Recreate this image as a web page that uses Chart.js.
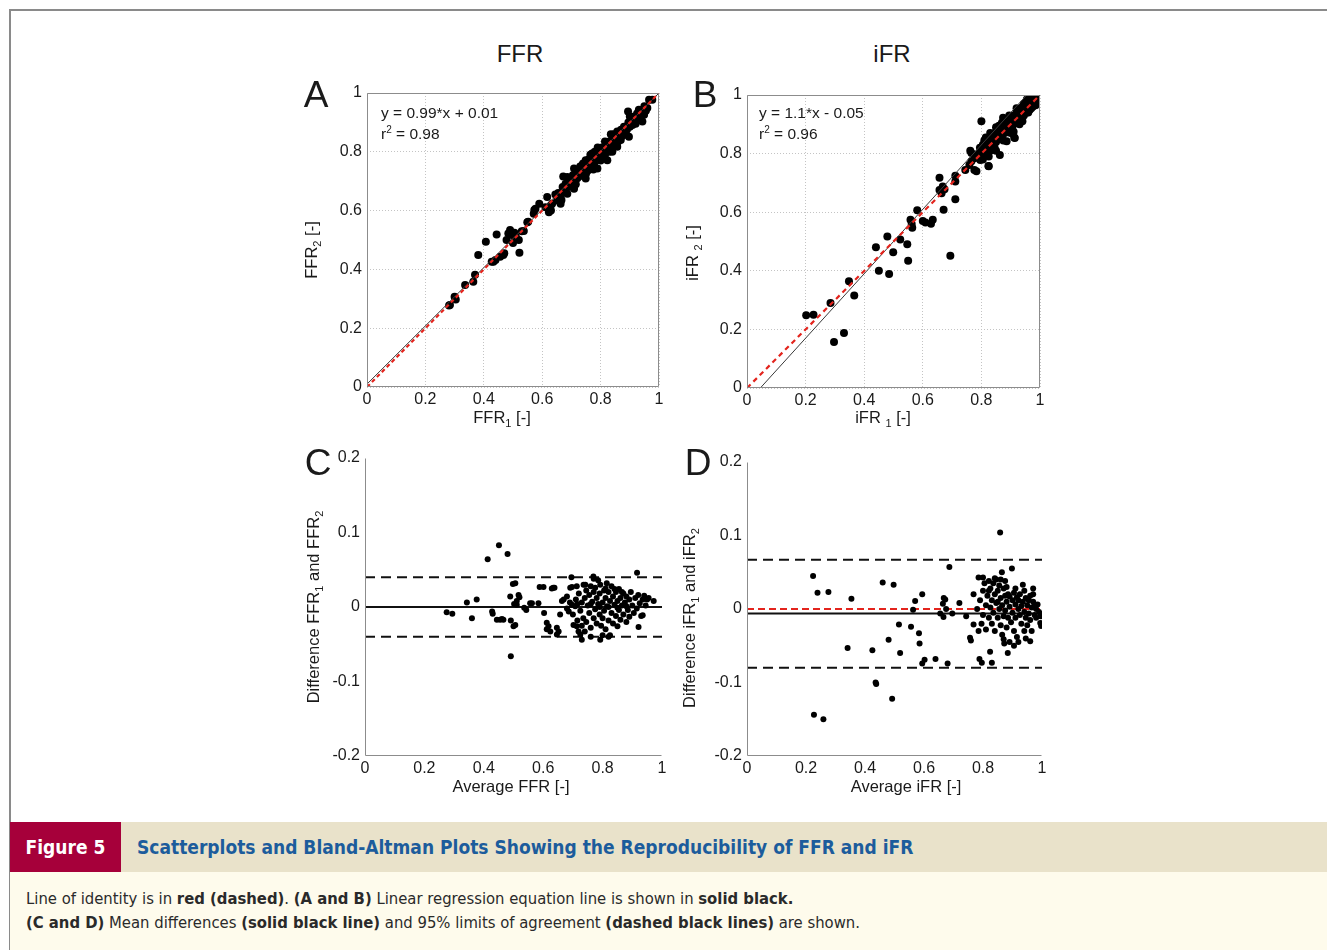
<!DOCTYPE html>
<html>
<head>
<meta charset="utf-8">
<script src="https://cdn.jsdelivr.net/npm/chart.js@4.4.1/dist/chart.umd.min.js"></script>
<style>
  html, body { margin: 0; padding: 0; background: #fff; }
  body { width: 1327px; height: 950px; position: relative; overflow: hidden;
         font-family: "Liberation Sans", Arial, sans-serif; color: #1a1a1a; }
  .frame { position: absolute; left: 9px; top: 9px; width: 1320px; height: 945px;
           border-left: 2px solid #8a8a8a; border-top: 2px solid #8a8a8a; }
  canvas { position: absolute; }
  .lbl { position: absolute; transform: translate(-50%, -50%); white-space: nowrap; font-size: 16.5px; line-height: 1; }
  .rot { transform: translate(-50%, -50%) rotate(-90deg); }
  .lbl sub { font-size: 11px; vertical-align: -4px; line-height: 0; }
  .col { font-size: 24px; }
  .letter { font-size: 37px; }
  .eq { position: absolute; white-space: nowrap; font-size: 15.5px; line-height: 1; transform: translateY(-50%); }
  .eq sup { font-size: 10px; vertical-align: 6px; line-height: 0; }
  .capbar { position: absolute; left: 10px; top: 822px; width: 1317px; height: 50px; background: #e9e2ca; }
  .capnum { position: absolute; left: 0; top: 0; width: 111px; height: 50px; background: #a6003a; color: #fff;
            font: bold 19px "Liberation Sans Narrow", "DejaVu Sans Condensed", sans-serif; line-height: 50px; text-align: center; }
  .captitle { position: absolute; left: 127px; top: 0; height: 50px; color: #1c5c9c;
              font: bold 19px "Liberation Sans Narrow", "DejaVu Sans Condensed", sans-serif; line-height: 50px; white-space: nowrap; }
  .capbody { position: absolute; left: 10px; top: 872px; width: 1317px; height: 78px; background: #fefbec;
             font: 16.5px "Liberation Sans Narrow", "DejaVu Sans Condensed", sans-serif; color: #2a2a2a; }
  .capbody div { position: absolute; left: 16px; white-space: nowrap; line-height: 1; }
</style>
</head>
<body>
<div class="frame"></div>

<canvas id="chartA"></canvas>
<canvas id="chartB"></canvas>
<canvas id="chartC"></canvas>
<canvas id="chartD"></canvas>

<div class="lbl col" style="left:520px; top:54px;">FFR</div>
<div class="lbl col" style="left:892px; top:54px;">iFR</div>

<div class="lbl letter" style="left:316px; top:94px;">A</div>
<div class="lbl letter" style="left:705px; top:94px;">B</div>
<div class="lbl letter" style="left:318px; top:462px;">C</div>
<div class="lbl letter" style="left:698px; top:462px;">D</div>

<div class="lbl" style="left:502px; top:417px;">FFR<sub>1</sub> [-]</div>
<div class="lbl rot" style="left:311px; top:250px;">FFR<sub>2</sub> [-]</div>
<div class="lbl" style="left:883px; top:417px;">iFR <sub>1</sub> [-]</div>
<div class="lbl rot" style="left:692px; top:253px;">iFR <sub>2</sub> [-]</div>
<div class="lbl" style="left:511px; top:786px;">Average FFR [-]</div>
<div class="lbl rot" style="left:313px; top:607px;">Difference FFR<sub>1</sub> and FFR<sub>2</sub></div>
<div class="lbl" style="left:906px; top:786px;">Average iFR [-]</div>
<div class="lbl rot" style="left:689px; top:618px;">Difference iFR<sub>1</sub> and iFR<sub>2</sub></div>

<div class="eq" id="eqA" style="left:381px; top:113px;"></div>
<div class="eq" id="r2A" style="left:381px; top:134px;"></div>
<div class="eq" id="eqB" style="left:759px; top:113px;"></div>
<div class="eq" id="r2B" style="left:759px; top:134px;"></div>

<div class="capbar">
  <div class="capnum">Figure 5</div>
  <div class="captitle">Scatterplots and Bland-Altman Plots Showing the Reproducibility of FFR and iFR</div>
</div>
<div class="capbody">
  <div style="top:19px;">Line of identity is in <b>red (dashed)</b>. <b>(A and B)</b> Linear regression equation line is shown in <b>solid black.</b></div>
  <div style="top:43px;"><b>(C and D)</b> Mean differences <b>(solid black line)</b> and 95% limits of agreement <b>(dashed black lines)</b> are shown.</div>
</div>

<script>
// axis ticks
const unitTicks = [0, 0.2, 0.4, 0.6, 0.8, 1];
const diffTicks = [-0.2, -0.1, 0, 0.1, 0.2];

// regression fits and limits of agreement
const ffrFit = { slope: 0.99, intercept: 0.01, r2: 0.98 };
const ifrFit = { slope: 1.1, intercept: -0.05, r2: 0.96 };
const ffrAgreement = { mean: 0, lower: -0.04, upper: 0.04 };
const ifrAgreement = { mean: -0.006, lower: -0.08, upper: 0.067 };

// [FFR1, FFR2]
const ffrPairs = [
  [0.281,0.277],[0.284,0.279],[0.300,0.307],[0.304,0.298],[0.336,0.347],[0.364,0.358],[0.370,0.382],[0.381,0.449],
  [0.407,0.494],[0.427,0.426],[0.433,0.426],[0.440,0.432],[0.444,0.519],[0.456,0.443],[0.467,0.449],[0.470,0.455],
  [0.478,0.500],[0.484,0.522],[0.490,0.534],[0.496,0.517],[0.500,0.490],[0.505,0.525],[0.510,0.510],[0.520,0.500],
  [0.522,0.457],[0.530,0.530],[0.537,0.531],[0.549,0.560],[0.552,0.562],[0.571,0.589],[0.573,0.602],[0.577,0.606],
  [0.590,0.623],[0.611,0.611],[0.617,0.646],[0.623,0.594],[0.629,0.617],[0.630,0.600],[0.634,0.623],[0.645,0.655],
  [0.651,0.634],[0.655,0.660],[0.660,0.645],[0.663,0.623],[0.663,0.651],[0.666,0.636],[0.670,0.680],[0.672,0.716],
  [0.674,0.669],[0.675,0.665],[0.680,0.691],[0.686,0.657],[0.686,0.714],[0.690,0.680],[0.690,0.700],[0.695,0.710],
  [0.697,0.697],[0.700,0.690],[0.705,0.720],[0.705,0.700],[0.709,0.674],[0.709,0.743],[0.714,0.703],[0.714,0.726],
  [0.715,0.690],[0.720,0.710],[0.720,0.735],[0.725,0.715],[0.726,0.737],[0.730,0.750],[0.735,0.745],[0.737,0.720],
  [0.737,0.754],[0.740,0.735],[0.740,0.760],[0.745,0.745],[0.749,0.709],[0.749,0.771],[0.750,0.725],[0.750,0.760],
  [0.754,0.749],[0.755,0.735],[0.760,0.775],[0.760,0.745],[0.765,0.750],[0.765,0.790],[0.766,0.766],[0.770,0.760],
  [0.771,0.794],[0.775,0.780],[0.775,0.740],[0.777,0.754],[0.780,0.765],[0.780,0.800],[0.783,0.777],[0.785,0.795],
  [0.789,0.743],[0.790,0.775],[0.790,0.815],[0.794,0.789],[0.795,0.800],[0.800,0.790],[0.800,0.811],[0.800,0.770],
  [0.805,0.815],[0.805,0.780],[0.810,0.800],[0.811,0.783],[0.815,0.790],[0.815,0.835],[0.817,0.806],[0.820,0.825],
  [0.820,0.800],[0.823,0.771],[0.825,0.810],[0.829,0.823],[0.830,0.835],[0.830,0.800],[0.835,0.815],[0.835,0.860],
  [0.840,0.800],[0.840,0.845],[0.845,0.825],[0.845,0.860],[0.846,0.840],[0.850,0.855],[0.850,0.830],[0.855,0.840],
  [0.857,0.817],[0.857,0.869],[0.860,0.860],[0.860,0.835],[0.865,0.850],[0.869,0.840],[0.870,0.875],[0.870,0.860],
  [0.874,0.863],[0.875,0.855],[0.880,0.885],[0.880,0.860],[0.885,0.870],[0.890,0.875],[0.891,0.886],[0.894,0.937],
  [0.895,0.900],[0.897,0.851],[0.900,0.885],[0.900,0.920],[0.905,0.910],[0.909,0.891],[0.910,0.900],[0.915,0.920],
  [0.920,0.909],[0.920,0.895],[0.925,0.930],[0.930,0.915],[0.931,0.943],[0.935,0.925],[0.940,0.940],[0.943,0.903],
  [0.945,0.930],[0.949,0.926],[0.950,0.955],[0.955,0.940],[0.960,0.949],[0.966,0.977],[0.977,0.977]
];

// [iFR1, iFR2]
const ifrPairs = [
  [0.202,0.248],[0.227,0.250],[0.285,0.290],[0.297,0.157],[0.331,0.188],[0.348,0.364],[0.366,0.316],[0.440,0.480],
  [0.450,0.400],[0.479,0.517],[0.485,0.389],[0.499,0.463],[0.523,0.507],[0.547,0.491],[0.550,0.434],[0.558,0.574],
  [0.562,0.560],[0.564,0.547],[0.581,0.607],[0.600,0.570],[0.609,0.565],[0.628,0.561],[0.634,0.574],[0.657,0.718],
  [0.657,0.676],[0.664,0.665],[0.668,0.688],[0.674,0.678],[0.671,0.608],[0.694,0.451],[0.711,0.644],[0.711,0.705],
  [0.711,0.724],[0.745,0.744],[0.759,0.761],[0.762,0.810],[0.766,0.802],[0.766,0.774],[0.776,0.744],[0.776,0.784],
  [0.783,0.740],[0.796,0.778],[0.800,0.910],[0.824,0.758],[0.825,0.757],[0.863,0.795],[0.874,0.922],[0.886,0.842],
  [0.912,0.855],[0.914,0.853],
  [0.790,0.800],[0.795,0.820],[0.800,0.790],[0.800,0.800],[0.805,0.830],[0.805,0.780],[0.810,0.810],[0.810,0.845],
  [0.815,0.800],[0.815,0.855],[0.820,0.835],[0.820,0.820],[0.820,0.800],[0.825,0.850],[0.825,0.790],[0.830,0.810],
  [0.830,0.840],[0.830,0.870],[0.835,0.865],[0.835,0.830],[0.840,0.825],[0.840,0.850],[0.840,0.865],[0.845,0.870],
  [0.845,0.820],[0.850,0.840],[0.850,0.860],[0.850,0.890],[0.850,0.810],[0.855,0.880],[0.860,0.850],[0.860,0.870],
  [0.860,0.895],[0.865,0.885],[0.865,0.860],[0.870,0.860],[0.870,0.880],[0.870,0.905],[0.875,0.900],[0.875,0.845],
  [0.880,0.870],[0.880,0.890],[0.880,0.910],[0.885,0.875],[0.890,0.900],[0.890,0.880],[0.895,0.915],[0.895,0.930],
  [0.895,0.895],[0.900,0.890],[0.900,0.905],[0.900,0.870],[0.905,0.920],[0.905,0.885],[0.910,0.900],[0.910,0.930],
  [0.910,0.875],[0.915,0.910],[0.920,0.920],[0.920,0.940],[0.920,0.955],[0.925,0.905],[0.925,0.925],[0.930,0.930],
  [0.930,0.950],[0.930,0.900],[0.935,0.920],[0.940,0.940],[0.940,0.960],[0.940,0.910],[0.945,0.930],[0.945,0.970],
  [0.950,0.950],[0.950,0.970],[0.955,0.940],[0.955,0.955],[0.955,0.985],[0.960,0.960],[0.960,0.980],[0.960,0.940],
  [0.965,0.950],[0.970,0.970],[0.970,0.985],[0.970,0.955],[0.975,0.960],[0.975,0.980],[0.980,0.980],[0.985,0.990],
  [0.985,0.965],[0.990,0.975],[0.990,0.990],[0.995,0.990]
];

// [average FFR, FFR1 - FFR2]
const ffrBland = [
  [0.275,-0.007],[0.294,-0.009],[0.343,0.006],[0.360,-0.015],[0.376,0.010],[0.413,0.064],[0.428,-0.006],[0.430,-0.009],
  [0.444,-0.017],[0.451,0.083],[0.455,-0.017],[0.461,-0.016],[0.466,-0.017],[0.480,0.071],[0.489,0.014],[0.491,-0.018],
  [0.491,-0.066],[0.498,0.031],[0.500,-0.026],[0.502,0.004],[0.506,0.032],[0.506,-0.024],[0.511,0.003],[0.511,0.008],
  [0.517,0.016],[0.520,0.013],[0.536,-0.001],[0.543,-0.004],[0.556,0.005],[0.562,0.005],[0.584,0.005],[0.588,0.027],
  [0.601,0.027],[0.603,-0.008],[0.612,-0.021],[0.612,-0.030],[0.618,-0.026],[0.624,-0.033],[0.629,0.025],[0.634,0.026],
  [0.638,0.026],[0.646,-0.028],[0.646,-0.037],[0.652,-0.033],[0.657,-0.010],[0.663,0.008],[0.669,0.010],[0.680,0.014],
  [0.680,-0.002],[0.686,-0.006],[0.690,0.006],[0.691,0.026],[0.695,0.040],[0.697,0.027],[0.697,0.003],[0.700,-0.010],
  [0.702,-0.024],[0.708,0.001],[0.710,0.010],[0.713,-0.026],[0.713,0.028],[0.715,0.004],[0.715,-0.018],[0.719,-0.033],
  [0.720,0.018],[0.725,-0.037],[0.725,-0.005],[0.730,-0.044],[0.730,0.006],[0.730,-0.025],[0.735,-0.015],[0.736,0.030],
  [0.740,0.012],[0.740,-0.033],[0.742,0.030],[0.745,0.022],[0.745,-0.020],[0.750,0.002],[0.755,-0.008],[0.755,0.016],
  [0.760,0.028],[0.760,-0.028],[0.760,0.004],[0.760,-0.040],[0.765,0.007],[0.769,0.041],[0.770,-0.015],[0.770,0.020],
  [0.770,0.038],[0.775,0.026],[0.775,-0.003],[0.780,0.012],[0.780,-0.022],[0.785,0.004],[0.785,0.036],[0.790,0.018],
  [0.790,-0.010],[0.790,0.000],[0.792,-0.044],[0.792,0.030],[0.795,-0.025],[0.800,0.006],[0.800,-0.015],[0.800,-0.038],
  [0.805,0.022],[0.805,-0.005],[0.810,0.012],[0.810,-0.030],[0.810,0.025],[0.814,0.032],[0.815,0.001],[0.820,0.020],
  [0.820,-0.018],[0.820,-0.040],[0.820,0.000],[0.825,0.008],[0.825,-0.038],[0.830,0.028],[0.830,-0.008],[0.835,0.014],
  [0.835,-0.022],[0.840,0.003],[0.840,0.024],[0.845,0.020],[0.845,-0.012],[0.850,0.008],[0.850,-0.026],[0.850,-0.001],
  [0.855,0.024],[0.855,-0.004],[0.860,0.012],[0.860,-0.017],[0.865,0.002],[0.865,0.020],[0.870,0.018],[0.870,-0.010],
  [0.875,0.006],[0.880,-0.020],[0.880,0.014],[0.880,0.001],[0.885,-0.004],[0.890,0.010],[0.890,-0.013],[0.895,0.020],
  [0.900,0.002],[0.905,-0.008],[0.910,0.012],[0.915,-0.002],[0.916,0.046],[0.920,0.016],[0.921,-0.027],[0.925,0.005],
  [0.930,-0.012],[0.935,0.010],[0.935,-0.011],[0.940,0.015],[0.945,0.002],[0.950,0.010],[0.955,0.012],[0.972,0.008]
];

// [average iFR, iFR1 - iFR2]
const ifrBland = [
  [0.224,0.045],[0.227,-0.144],[0.239,0.022],[0.259,-0.150],[0.276,0.023],[0.341,-0.053],[0.354,0.014],[0.425,-0.056],
  [0.436,-0.100],[0.438,-0.102],[0.460,0.036],[0.480,-0.042],[0.492,-0.122],[0.497,0.033],[0.515,-0.021],[0.519,-0.060],
  [0.556,-0.024],[0.563,-0.001],[0.570,0.011],[0.583,-0.033],[0.585,-0.047],[0.594,0.020],[0.594,-0.074],[0.602,-0.069],
  [0.639,-0.068],[0.655,-0.006],[0.664,0.007],[0.666,-0.011],[0.667,0.015],[0.672,0.013],[0.675,0.000],[0.680,-0.074],
  [0.686,0.057],[0.696,-0.006],[0.720,0.008],[0.743,-0.010],[0.756,-0.039],[0.759,-0.043],[0.768,0.020],[0.768,-0.021],
  [0.780,0.000],[0.785,0.043],[0.785,-0.030],[0.788,-0.068],[0.790,0.012],[0.795,-0.020],[0.796,-0.073],[0.800,0.025],
  [0.800,-0.008],[0.800,0.043],[0.805,0.035],[0.810,0.005],[0.810,-0.028],[0.815,0.018],[0.820,-0.012],[0.820,0.038],
  [0.820,0.025],[0.824,-0.058],[0.825,0.002],[0.825,0.028],[0.830,-0.020],[0.830,0.012],[0.830,-0.073],[0.835,0.035],
  [0.835,-0.005],[0.840,0.020],[0.840,-0.030],[0.840,0.042],[0.845,0.008],[0.845,0.040],[0.850,-0.012],[0.850,0.025],
  [0.850,0.010],[0.855,0.000],[0.855,0.032],[0.858,0.104],[0.860,-0.022],[0.860,0.015],[0.860,0.040],[0.864,0.050],
  [0.865,0.005],[0.865,-0.035],[0.870,0.028],[0.870,-0.010],[0.870,-0.041],[0.872,-0.047],[0.875,0.018],[0.875,-0.002],
  [0.875,0.038],[0.880,0.010],[0.880,-0.025],[0.880,0.030],[0.884,-0.060],[0.885,0.020],[0.885,-0.012],[0.890,0.003],
  [0.890,0.017],[0.890,-0.045],[0.895,-0.018],[0.898,0.055],[0.900,0.012],[0.900,-0.005],[0.905,0.022],[0.905,-0.030],
  [0.905,-0.050],[0.910,0.006],[0.910,-0.012],[0.910,0.028],[0.915,0.016],[0.915,-0.038],[0.920,0.000],[0.920,0.012],
  [0.920,-0.045],[0.925,-0.008],[0.925,0.020],[0.930,0.004],[0.930,-0.020],[0.935,0.033],[0.935,0.010],[0.940,-0.004],
  [0.940,-0.030],[0.940,0.025],[0.945,0.015],[0.945,-0.012],[0.945,-0.040],[0.950,0.005],[0.950,-0.022],[0.955,0.012],
  [0.955,-0.006],[0.960,0.018],[0.960,-0.015],[0.960,-0.044],[0.965,0.002],[0.965,-0.030],[0.970,0.010],[0.970,0.028],
  [0.970,0.020],[0.975,-0.008],[0.975,0.005],[0.980,0.000],[0.980,-0.012],[0.985,0.006],[0.990,-0.004],[0.994,-0.019],
  [0.995,-0.010],[0.997,-0.023]
];

const RED = '#e3241d';
const tickFont = { family: '"Liberation Sans", Arial, sans-serif', size: 16 };

const toXY = pairs => pairs.map(p => ({ x: p[0], y: p[1] }));

function fitLine(fit) {
  // clip the regression line to the 0..1 square
  const x0 = Math.max(0, -fit.intercept / fit.slope);
  const x1 = Math.min(1, (1 - fit.intercept) / fit.slope);
  return [{ x: x0, y: fit.slope * x0 + fit.intercept }, { x: x1, y: fit.slope * x1 + fit.intercept }];
}

function hLine(y) { return [{ x: 0, y: y }, { x: 1, y: y }]; }

function lineSet(data, color, width, dash) {
  return { type: 'line', data: data, showLine: true, borderColor: color, borderWidth: width,
           borderDash: dash || [], pointRadius: 0, fill: false };
}

function dotSet(data, r) {
  return { type: 'scatter', data: data, pointRadius: r, pointHoverRadius: r,
           backgroundColor: '#000', borderWidth: 0 };
}

// axes box: full frame for scatterplots, left+bottom for Bland-Altman
const boxPlugin = {
  id: 'box',
  afterDraw(chart, args, opts) {
    const { ctx, chartArea: a } = chart;
    const l = Math.round(a.left) + 0.5, r = Math.round(a.right) - 0.5;
    const t = Math.round(a.top) + 0.5, b = Math.round(a.bottom) - 0.5;
    ctx.save();
    ctx.strokeStyle = '#8c8c8c';
    ctx.lineWidth = 1;
    ctx.beginPath();
    if (opts.full) {
      ctx.rect(l, t, r - l, b - t);
    } else {
      ctx.moveTo(l, t); ctx.lineTo(l, b); ctx.lineTo(r, b);
    }
    ctx.stroke();
    ctx.restore();
  }
};

function axis(min, max, ticks, grid, fitSize, isX) {
  return {
    type: 'linear', min: min, max: max,
    afterBuildTicks: s => { s.ticks = ticks.map(v => ({ value: v })); },
    afterFit: s => { if (isX) s.height = fitSize; else s.width = fitSize; },
    grid: { display: grid, color: '#c4c4c4', lineWidth: 1, drawTicks: false },
    border: { display: false, dash: [1, 2] },
    ticks: { font: tickFont, color: '#1a1a1a', padding: isX ? 3 : 5, maxRotation: 0, autoSkip: false,
             callback: v => String(v) }
  };
}

function panel(id, area, opts) {
  const yW = 70, xH = 30, padT = 20, padR = 20;
  const cv = document.getElementById(id);
  cv.width = area.right - area.left + yW + padR;
  cv.height = area.bottom - area.top + padT + xH;
  cv.style.left = (area.left - yW) + 'px';
  cv.style.top = (area.top - padT) + 'px';
  return new Chart(cv, {
    type: 'scatter',
    data: { datasets: opts.datasets },
    options: {
      responsive: false, animation: false, events: [],
      layout: { padding: { top: padT, right: padR, left: 0, bottom: 0 } },
      plugins: { legend: { display: false }, tooltip: { enabled: false }, box: { full: opts.full } },
      scales: {
        x: axis(0, 1, unitTicks, opts.full, xH, true),
        y: axis(opts.yMin, opts.yMax, opts.yTicks, opts.full, yW, false)
      }
    },
    plugins: [boxPlugin]
  });
}

const identity = [{ x: 0, y: 0 }, { x: 1, y: 1 }];

// A: FFR scatter
panel('chartA', { left: 367, top: 93, right: 659, bottom: 387 }, {
  full: true, yMin: 0, yMax: 1, yTicks: unitTicks,
  datasets: [
    lineSet(identity, RED, 2.2, [4, 3]),
    lineSet(fitLine(ffrFit), '#3a3a3a', 1),
    dotSet(toXY(ffrPairs), 4)
  ]
});

// B: iFR scatter
panel('chartB', { left: 747, top: 95, right: 1040, bottom: 388 }, {
  full: true, yMin: 0, yMax: 1, yTicks: unitTicks,
  datasets: [
    lineSet(identity, RED, 2.2, [5, 4]),
    lineSet(fitLine(ifrFit), '#3a3a3a', 1),
    dotSet(toXY(ifrPairs), 4)
  ]
});

// C: FFR Bland-Altman
panel('chartC', { left: 365, top: 458, right: 662, bottom: 756 }, {
  full: false, yMin: -0.2, yMax: 0.2, yTicks: diffTicks,
  datasets: [
    dotSet(toXY(ffrBland), 3),
    lineSet(hLine(ffrAgreement.mean), '#111', 2),
    lineSet(hLine(ffrAgreement.upper), '#111', 2, [10, 6]),
    lineSet(hLine(ffrAgreement.lower), '#111', 2, [10, 6]),
    lineSet(hLine(0), RED, 2, [7, 4])
  ]
});

// D: iFR Bland-Altman
panel('chartD', { left: 747, top: 462, right: 1042, bottom: 756 }, {
  full: false, yMin: -0.2, yMax: 0.2, yTicks: diffTicks,
  datasets: [
    dotSet(toXY(ifrBland), 3),
    lineSet(hLine(ifrAgreement.mean), '#111', 2),
    lineSet(hLine(ifrAgreement.upper), '#111', 2, [10, 6]),
    lineSet(hLine(ifrAgreement.lower), '#111', 2, [10, 6]),
    lineSet(hLine(0), RED, 2, [7, 4])
  ]
});

// regression equations
function eqText(fit) {
  const sign = fit.intercept < 0 ? '-' : '+';
  return 'y = ' + fit.slope + '*x ' + sign + ' ' + Math.abs(fit.intercept);
}
document.getElementById('eqA').textContent = eqText(ffrFit);
document.getElementById('eqB').textContent = eqText(ifrFit);
document.getElementById('r2A').innerHTML = 'r<sup>2</sup> = ' + ffrFit.r2;
document.getElementById('r2B').innerHTML = 'r<sup>2</sup> = ' + ifrFit.r2;
</script>
</body>
</html>
